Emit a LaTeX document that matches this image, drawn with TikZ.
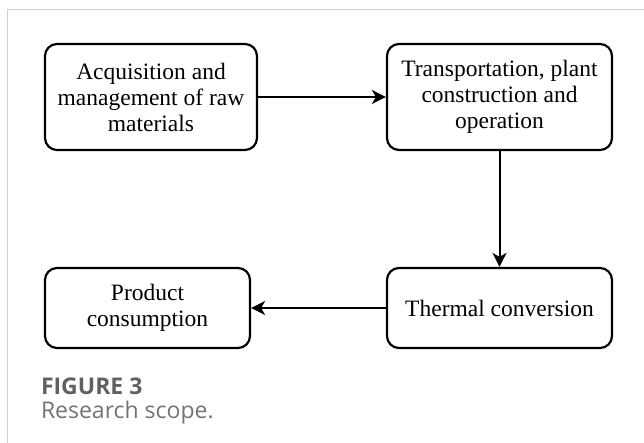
\documentclass[tikz,border=0pt]{standalone}
\usepackage{fontspec}
\setmainfont{Liberation Serif}
\newfontfamily\capfont{Open Sans}
\usetikzlibrary{arrows.meta}

\begin{document}
\begin{tikzpicture}[x=1pt,y=-1pt,>={Stealth[length=14pt,width=14pt,inset=4pt]},line width=2pt,
	stage/.style={draw,rounded corners=12pt,line width=2.2pt,align=center,inner sep=0pt,font=\fontsize{23.5}{26}\selectfont},
	caption/.style={anchor=base west,inner sep=0pt}]
		\useasboundingbox (0,0) rectangle (644,443);
		\draw[line width=1pt,black!18] (7,443) -- (7,10) -- (644,10);
		\node[stage,minimum width=212pt,minimum height=106pt] (raw) at (151,97) {Acquisition and\\management of raw\\materials};
		\node[stage,minimum width=225pt,minimum height=106pt] (plant) at (499.5,97) {Transportation, plant\\construction and\\operation};
		\node[stage,minimum width=225pt,minimum height=80pt] (thermal) at (499.5,308) {Thermal conversion};
		\node[stage,minimum width=205pt,minimum height=80pt] (product) at (147.5,308) {Product\\consumption};
		\draw[->] (raw) -- (plant);
		\draw[->] (plant) -- (thermal);
		\draw[->] (thermal) -- (product);
		\node[caption,text=black!62,font=\capfont\fontsize{23}{27}\selectfont\bfseries] (fig) at (40,394) {FIGURE 3};
		\node[caption,text=black!55,font=\capfont\fontsize{23}{27}\selectfont] (scope) at (40,418) {Research scope.};
\end{tikzpicture}
\end{document}
